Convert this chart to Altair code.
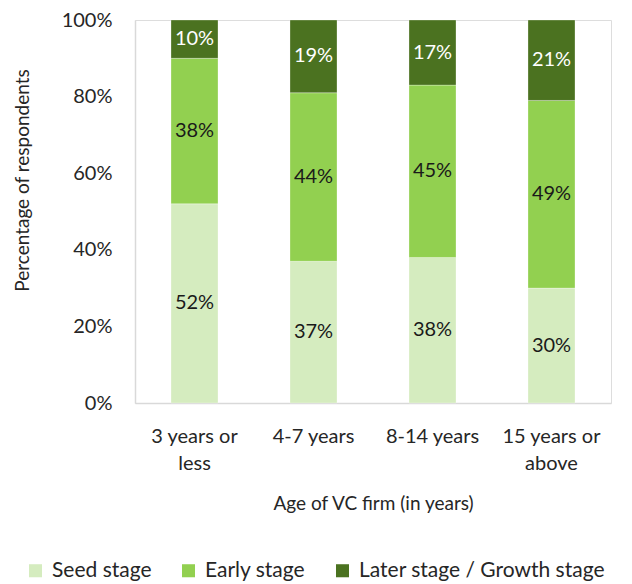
import altair as alt
import pandas as pd

categories = ["3 years or less", "4-7 years", "8-14 years", "15 years or above"]
stages = ["Seed stage", "Early stage", "Later stage / Growth stage"]
seed = [52, 37, 38, 30]
early = [38, 44, 45, 49]
later = [10, 19, 17, 21]
colors = ["#d5ecbf", "#92d050", "#4b7220"]

rows = []
for i, c in enumerate(categories):
    for j, (s, vals) in enumerate(zip(stages, [seed, early, later])):
        rows.append({"cat": c, "stage": s, "order": j, "value": vals[i]})
df = pd.DataFrame(rows)

FONT = "Lato"
TXT = "#262626"

label_expr = (
    "datum.label == '3 years or less' ? ['3 years or', 'less'] : "
    "datum.label == '15 years or above' ? ['15 years or', 'above'] : datum.label"
)

base = alt.Chart(df).transform_stack(
    stack="value", groupby=["cat"], sort=[alt.SortField("order", order="ascending")], as_=["v0", "v1"]
).transform_calculate(mid="(datum.v0 + datum.v1) / 2", lab="datum.value + '%'")

xenc = alt.X(
    "cat:N",
    sort=categories,
    scale=alt.Scale(paddingInner=0.605, paddingOuter=0.3025),
    axis=alt.Axis(
        title="Age of VC firm (in years)",
        labelExpr=label_expr,
        labelAngle=0,
        labelFontSize=20,
        labelLineHeight=27,
        labelPadding=23,
        labelColor=TXT,
        labelFont=FONT,
        labelLimit=300,
        ticks=False,
        domainColor="#d9d9d9",
        domainWidth=1.5,
        titleFont=FONT,
        titleFontSize=19,
        titleFontWeight="normal",
        titleColor=TXT,
        titleY=100,
        titleBaseline="middle",
    ),
)

bars = base.mark_bar(stroke="white", strokeWidth=0.3).encode(
    x=xenc,
    y=alt.Y(
        "v0:Q",
        scale=alt.Scale(domain=[0, 100]),
        axis=alt.Axis(
            title="Percentage of respondents",
            values=[0, 20, 40, 60, 80, 100],
            labelExpr="datum.value + '%'",
            labelFontSize=20,
            labelPadding=23,
            labelColor=TXT,
            labelFont=FONT,
            ticks=False,
            grid=False,
            domainColor="#d9d9d9",
            domainWidth=1.5,
            titleFont=FONT,
            titleFontSize=19,
            titleFontWeight="normal",
            titleColor=TXT,
            titleX=-113,
            titleY=160,
            titleBaseline="middle",
        ),
    ),
    y2="v1:Q",
    color=alt.Color(
        "stage:N",
        sort=stages,
        scale=alt.Scale(domain=stages, range=colors),
        legend=alt.Legend(
            title=None,
            orient="none",
            direction="horizontal",
            legendX=-110,
            legendY=540,
            symbolType="square",
            symbolSize=170,
            symbolStrokeWidth=0,
            labelFont=FONT,
            labelFontSize=21,
            labelColor=TXT,
            labelLimit=400,
            columnPadding=26,
            labelOffset=6,
        ),
    ),
    order=alt.Order("order:Q"),
)

texts = base.mark_text(font=FONT, fontSize=20).encode(
    x=alt.X("cat:N", sort=categories),
    y=alt.Y("mid:Q"),
    text="lab:N",
    color=alt.condition(
        "datum.stage == 'Later stage / Growth stage'", alt.value("white"), alt.value("#1a1a1a")
    ),
)

chart = (
    alt.layer(bars, texts)
    .properties(
        width=476,
        height=383,
        autosize=alt.AutoSizeParams(type="none"),
        padding={"left": 127, "top": 12, "right": 13, "bottom": 180},
    )
    .configure_view(stroke=None)
    .configure(background="white")
)

chart.save("out.html", embed_options={"renderer": "svg", "actions": False})
